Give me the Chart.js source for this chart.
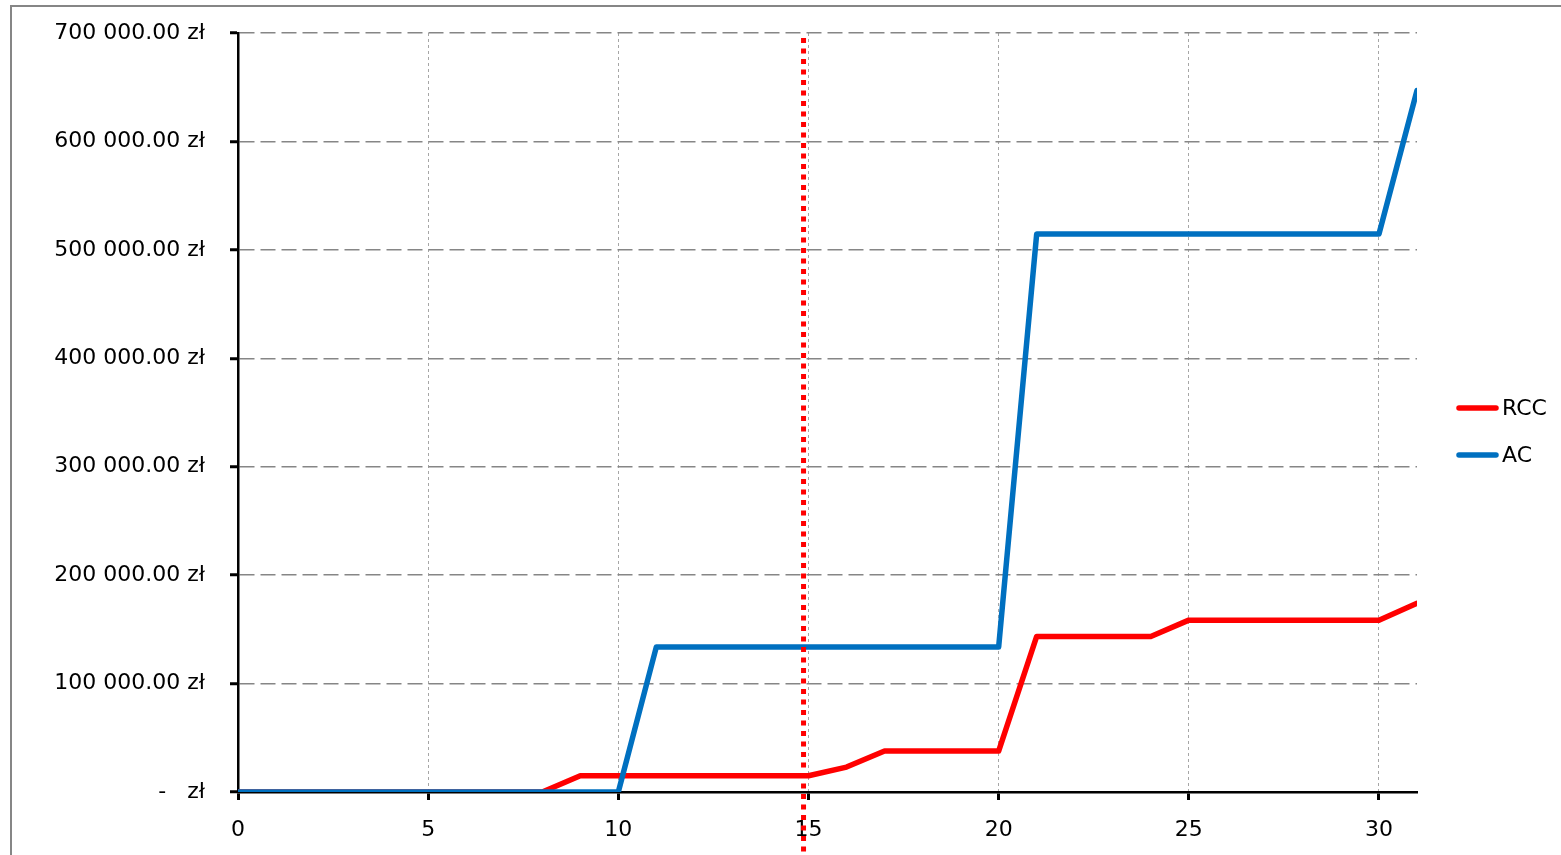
<!DOCTYPE html>
<html>
<head>
<meta charset="utf-8">
<script src="https://cdn.jsdelivr.net/npm/chart.js@4"></script>
<style>
  body { margin: 0; background: #fff; }
  canvas { display: block; }
</style>
</head>
<body>
<canvas id="chart" width="1561" height="855"></canvas>
<script>
const days = [0, 1, 2, 3, 4, 5, 6, 7, 8, 9, 10, 11, 12, 13, 14, 15,
              16, 17, 18, 19, 20, 21, 22, 23, 24, 25, 26, 27, 28, 29, 30, 31];
const rcc = [0, 0, 0, 0, 0, 0, 0, 0, 0, 15000, 15000, 15000, 15000, 15000, 15000, 15000,
             23000, 37800, 37800, 37800, 37800, 143500, 143500, 143500, 143500,
             158500, 158500, 158500, 158500, 158500, 158500, 174000];
const ac = [0, 0, 0, 0, 0, 0, 0, 0, 0, 0, 0, 133800, 133800, 133800, 133800, 133800,
            133800, 133800, 133800, 133800, 133800, 514600, 514600, 514600, 514600,
            514600, 514600, 514600, 514600, 514600, 514600, 647000];
const seriesNames = ["RCC", "AC"];
const seriesColors = ["#ff0000", "#0070c0"];
const cutoffDay = 14.87;

const FONT = "'DejaVu Sans', sans-serif";

function formatZl(v) {
    if (v === 0) return "-   zł";
    const parts = v.toFixed(2).split(".");
    return parts[0].replace(/\B(?=(\d{3})+(?!\d))/g, " ") + "." + parts[1] + " zł";
}

// thin grey frame round the whole chart object
const framePlugin = {
    id: "frame",
    beforeDraw(chart) {
        const ctx = chart.ctx;
        ctx.save();
        ctx.strokeStyle = "#868686";
        ctx.lineWidth = 2;
        ctx.strokeRect(11, 6, chart.width + 20, chart.height + 20);
        ctx.restore();
    }
};

// red dotted marker at the cutoff day, running down past the axis
const cutoffPlugin = {
    id: "cutoff",
    afterDraw(chart) {
        const ctx = chart.ctx;
        const x = chart.scales.x.getPixelForValue(cutoffDay);
        ctx.save();
        ctx.strokeStyle = "#ff0000";
        ctx.lineWidth = 5;
        ctx.setLineDash([5, 5.5]);
        ctx.beginPath();
        ctx.moveTo(x, chart.chartArea.top + 5);
        ctx.lineTo(x, chart.height);
        ctx.stroke();
        ctx.restore();
    }
};

// legend on the right: short thick line + name
const sideLegend = {
    id: "sideLegend",
    afterDraw(chart) {
        const ctx = chart.ctx;
        ctx.save();
        ctx.font = "22px " + FONT;
        ctx.textBaseline = "middle";
        ctx.lineCap = "round";
        chart.data.datasets.forEach((ds, i) => {
            const y = 408 + i * 47;
            ctx.strokeStyle = ds.borderColor;
            ctx.lineWidth = 5.5;
            ctx.beginPath();
            ctx.moveTo(1459, y);
            ctx.lineTo(1496, y);
            ctx.stroke();
            ctx.fillStyle = "#000";
            ctx.fillText(ds.label, 1502, y + 1);
        });
        ctx.restore();
    }
};

new Chart(document.getElementById("chart"), {
    type: "line",
    data: {
        labels: days,
        datasets: [
            {
                label: seriesNames[0],
                data: rcc,
                borderColor: seriesColors[0],
                backgroundColor: seriesColors[0],
                borderWidth: 5.5,
                borderCapStyle: "round",
                borderJoinStyle: "round",
                pointRadius: 0,
                tension: 0,
                order: 1
            },
            {
                label: seriesNames[1],
                data: ac,
                borderColor: seriesColors[1],
                backgroundColor: seriesColors[1],
                borderWidth: 5.5,
                borderCapStyle: "round",
                borderJoinStyle: "round",
                pointRadius: 0,
                tension: 0,
                order: 0
            }
        ]
    },
    options: {
        responsive: false,
        animation: false,
        layout: { padding: { left: 0, top: 33, right: 144, bottom: 0 } },
        plugins: {
            legend: { display: false },
            tooltip: { enabled: false }
        },
        scales: {
            x: {
                type: "linear",
                min: 0,
                max: 31,
                afterFit: (scale) => { scale.height = 63; },
                ticks: {
                    stepSize: 5,
                    includeBounds: false,
                    padding: 17,
                    color: "#000",
                    font: { family: FONT, size: 22 }
                },
                grid: {
                    color: "#a6a6a6",
                    lineWidth: 1,
                    tickLength: 8,
                    tickColor: "#000",
                    tickWidth: 3
                },
                border: { color: "#000", width: 2.5, dash: [3, 3] }
            },
            y: {
                min: 0,
                max: 700000,
                afterFit: (scale) => {
                    scale.width = 238;
                    scale.paddingTop = 0;
                    scale.paddingBottom = 0;
                },
                ticks: {
                    stepSize: 100000,
                    padding: 25,
                    color: "#000",
                    font: { family: FONT, size: 22 },
                    callback: (v) => formatZl(v)
                },
                grid: {
                    color: "#868686",
                    lineWidth: 1.5,
                    tickLength: 8,
                    tickColor: "#000",
                    tickWidth: 3
                },
                border: { color: "#000", width: 2.5, dash: [15, 6] }
            }
        }
    },
    plugins: [framePlugin, cutoffPlugin, sideLegend]
});
</script>
</body>
</html>
